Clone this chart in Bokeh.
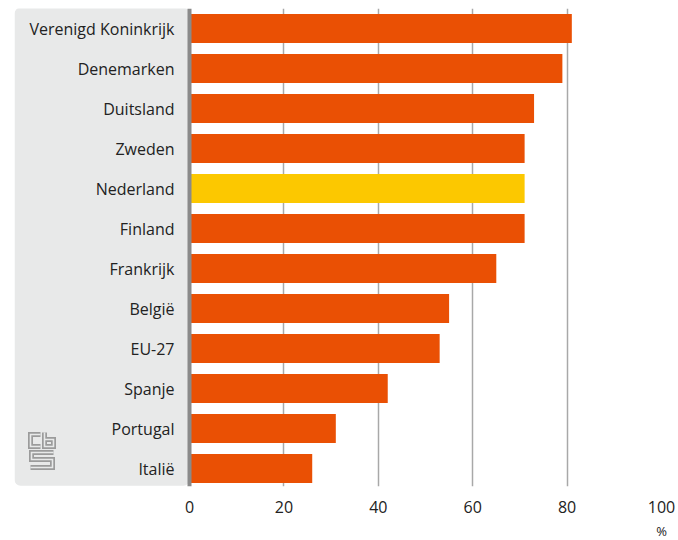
from bokeh.plotting import figure
from bokeh.models import (ColumnDataSource, Range1d, FixedTicker, LinearAxis,
                          BoxAnnotation, Span)
from bokeh.core.properties import value
from bokeh.embed import file_html
from bokeh.resources import INLINE

countries = ["Verenigd Koninkrijk", "Denemarken", "Duitsland", "Zweden", "Nederland",
             "Finland", "Frankrijk", "België", "EU-27", "Spanje", "Portugal", "Italië"]
values = [81, 79, 73, 71, 71, 71, 65, 55, 53, 42, 31, 26]
highlight = "Nederland"
ticks = [0, 20, 40, 60, 80, 100]
unit_label = "%"

ORANGE = "#ea5004"
YELLOW = "#fcc800"
PANEL = "#e8e9e9"
FONT = "Open Sans"

n = len(countries)
ypos = [n - 1 - i for i in range(n)]
colors = [YELLOW if c == highlight else ORANGE for c in countries]
src = ColumnDataSource(dict(y=ypos, v=values, c=colors, name=countries,
                            zero=[0] * n))

PXU = 4.72  # pixels per percent
x_start = -175 / PXU

p = figure(frame_width=647, frame_height=478,
           x_range=Range1d(x_start, 100), y_range=Range1d(-0.45, 11.5),
           output_backend="svg", toolbar_location=None,
           x_axis_location=None, y_axis_location=None,
           min_border_left=14, min_border_right=17, min_border_top=8,
           min_border_bottom=0)
p.outline_line_color = None
p.background_fill_color = "white"
p.border_fill_color = "white"

# left label panel
p.add_layout(BoxAnnotation(left=x_start, right=0, top=11.52, bottom=-0.43,
                           fill_color=PANEL, fill_alpha=1, line_color=None,
                           border_radius=6, level="underlay"))

# axis
xa = LinearAxis(ticker=FixedTicker(ticks=ticks), axis_label=unit_label)
xa.axis_line_color = None
xa.major_tick_line_color = None
xa.minor_tick_line_color = None
xa.major_label_text_font = FONT
xa.major_label_text_font_size = "16px"
xa.major_label_text_color = "#222222"
xa.major_label_standoff = 8
xa.axis_label_align = "end"
xa.axis_label_standoff = 6
xa.axis_label_text_font = FONT
xa.axis_label_text_font_size = "13px"
xa.axis_label_text_font_style = "normal"
xa.axis_label_text_color = "#222222"
p.add_layout(xa, "below")

p.xgrid.ticker = FixedTicker(ticks=ticks[1:])
p.xgrid.grid_line_color = "#a8a8a8"
p.xgrid.grid_line_width = 1.5
p.ygrid.grid_line_color = None

p.hbar(y="y", left="zero", right="v", height=0.72, fill_color="c",
       line_color=None, source=src)

p.add_layout(Span(location=0, dimension="height", line_color="#8a8a8a",
                  line_width=4))

p.text(x="zero", y="y", text="name", source=src, x_offset=-15,
       text_align="right", text_baseline="middle",
       text_font=value(FONT), text_font_size="16px", text_color="#222222")

# CBS logo (decorative), drawn in page pixels converted to data units
def dx(px):
    return (px - 189) / PXU

def dy(py):
    return 11.5 - (py - 8) / 40.0

logo_paths = [
    [(40, 434), (30, 434), (30, 446), (40, 446)],                 # c
    [(44, 432), (44, 446), (53, 446), (53, 439), (44, 439)],      # b
    [(53, 452), (31, 452), (31, 459), (52, 459), (52, 467), (30, 467)],  # S
]
xs = [[dx(a) for a, b in path] for path in logo_paths]
ys = [[dy(b) for a, b in path] for path in logo_paths]
p.multi_line(xs, ys, line_color="#9b9b9b", line_width=5, line_join="miter")
p.multi_line(xs, ys, line_color=PANEL, line_width=1.6, line_join="miter")

open("out.html", "w").write(file_html(p, INLINE))
